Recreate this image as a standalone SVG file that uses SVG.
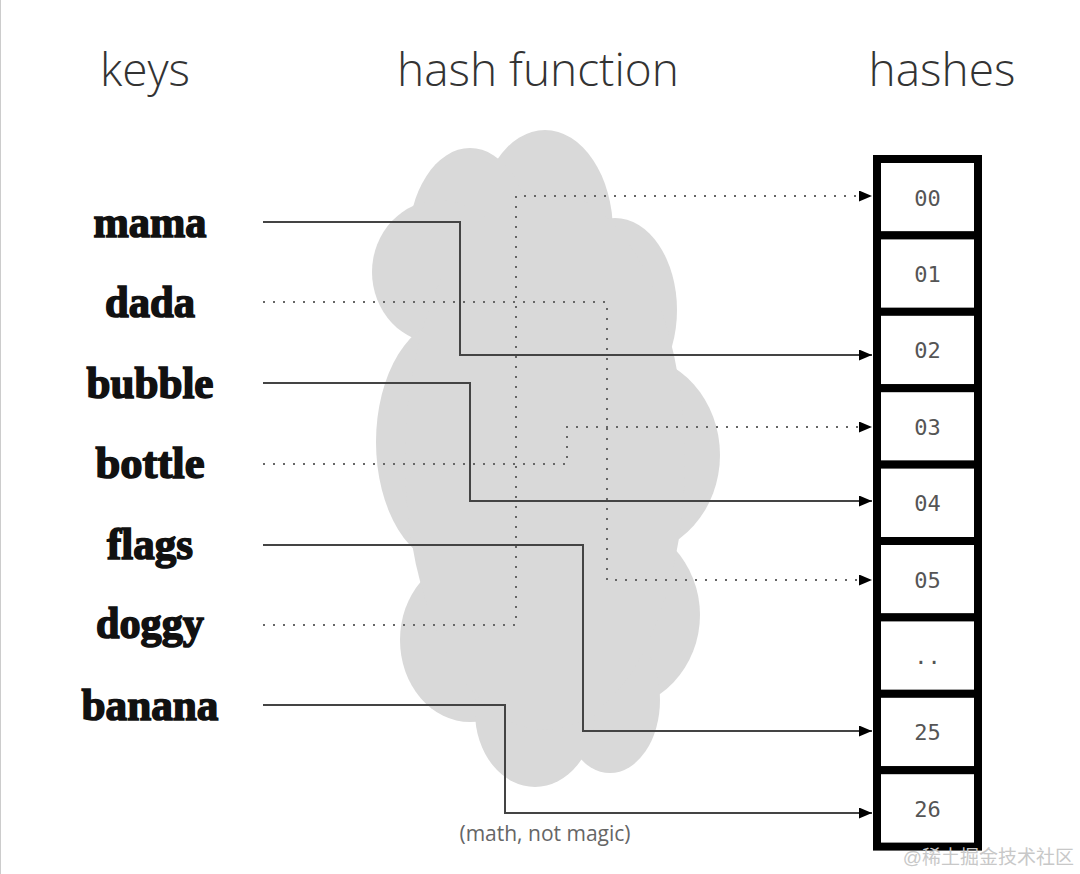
<svg xmlns="http://www.w3.org/2000/svg" width="1080" height="874" viewBox="0 0 1080 874">
<style>
.title{font-family:"Open Sans","Liberation Sans",sans-serif;font-weight:300;font-size:46px;fill:#333;text-anchor:middle}
.key{font-family:"Liberation Serif",serif;font-weight:bold;font-size:45px;fill:#111;stroke:#111;stroke-width:1.6;text-anchor:middle}
.cell rect{fill:#fff;stroke:#000;stroke-width:8}
.cell text{font-family:"DejaVu Sans Mono","Liberation Mono",monospace;font-size:22px;fill:#555;text-anchor:middle}
.solid{fill:none;stroke:#444;stroke-width:2}
.dot{fill:none;stroke:#666;stroke-width:2;stroke-dasharray:2 8}
.cloud{fill:#d9d9d9}
</style>
<defs>
<marker id="ah" markerUnits="userSpaceOnUse" markerWidth="13" markerHeight="11" refX="13" refY="5.5" orient="auto">
<path d="M0,0 L13,5.5 L0,11 z" fill="#000"/>
</marker>
</defs>
<rect width="1080" height="874" fill="#fff"/>
<line x1="0.5" y1="0" x2="0.5" y2="874" stroke="#ccc" stroke-width="1"/>
<g id="titles">
<text class="title" x="145" y="86">keys</text>
<text class="title" x="538" y="86">hash function</text>
<text class="title" x="942" y="86">hashes</text>
</g>
<g id="cloud" class="cloud">
<ellipse cx="545" cy="232" rx="68" ry="102"/>
<ellipse cx="470" cy="245" rx="62" ry="97"/>
<ellipse cx="440" cy="272" rx="68" ry="72"/>
<ellipse cx="452" cy="442" rx="76" ry="124"/>
<ellipse cx="470" cy="640" rx="70" ry="82"/>
<ellipse cx="615" cy="310" rx="62" ry="92"/>
<ellipse cx="630" cy="455" rx="90" ry="100"/>
<ellipse cx="610" cy="615" rx="90" ry="95"/>
<ellipse cx="610" cy="700" rx="50" ry="73"/>
<ellipse cx="535" cy="712" rx="60" ry="75"/>
<ellipse cx="545" cy="460" rx="140" ry="270"/>
</g>
<g id="keys">
<g id="key-mama"><text class="key" x="150" y="237" textLength="113" lengthAdjust="spacingAndGlyphs">mama</text></g>
<g id="key-dada"><text class="key" x="150" y="317" textLength="90" lengthAdjust="spacingAndGlyphs">dada</text></g>
<g id="key-bubble"><text class="key" x="150" y="398" textLength="127" lengthAdjust="spacingAndGlyphs">bubble</text></g>
<g id="key-bottle"><text class="key" x="150" y="478" textLength="109" lengthAdjust="spacingAndGlyphs">bottle</text></g>
<g id="key-flags"><text class="key" x="150" y="559" textLength="86" lengthAdjust="spacingAndGlyphs">flags</text></g>
<g id="key-doggy"><text class="key" x="150" y="638" textLength="108" lengthAdjust="spacingAndGlyphs">doggy</text></g>
<g id="key-banana"><text class="key" x="150" y="720" textLength="137" lengthAdjust="spacingAndGlyphs">banana</text></g>
</g>
<g id="connectors">
<polyline class="solid" points="263,222 460,222 460,355 872,355" marker-end="url(#ah)"/>
<polyline class="dot" points="263,302 607,302 607,580 872,580" marker-end="url(#ah)"/>
<polyline class="solid" points="263,383 470,383 470,501 872,501" marker-end="url(#ah)"/>
<polyline class="dot" points="263,464 567,464 567,427 872,427" marker-end="url(#ah)"/>
<polyline class="solid" points="263,545 583,545 583,731 872,731" marker-end="url(#ah)"/>
<polyline class="dot" points="263,625 516,625 516,196 872,196" marker-end="url(#ah)"/>
<polyline class="solid" points="263,705 505,705 505,813 872,813" marker-end="url(#ah)"/>
</g>
<g id="hashes">
<g id="cell-00" class="cell"><rect x="877" y="159" width="101" height="76.4"/><text x="927.5" y="205.5">00</text></g>
<g id="cell-01" class="cell"><rect x="877" y="235.4" width="101" height="76.4"/><text x="927.5" y="281.9">01</text></g>
<g id="cell-02" class="cell"><rect x="877" y="311.8" width="101" height="76.4"/><text x="927.5" y="358.3">02</text></g>
<g id="cell-03" class="cell"><rect x="877" y="388.2" width="101" height="76.4"/><text x="927.5" y="434.7">03</text></g>
<g id="cell-04" class="cell"><rect x="877" y="464.6" width="101" height="76.4"/><text x="927.5" y="511.1">04</text></g>
<g id="cell-05" class="cell"><rect x="877" y="541" width="101" height="76.4"/><text x="927.5" y="587.5">05</text></g>
<g id="cell-dots" class="cell"><rect x="877" y="617.4" width="101" height="76.4"/><text x="927.5" y="663.9">..</text></g>
<g id="cell-25" class="cell"><rect x="877" y="693.8" width="101" height="76.4"/><text x="927.5" y="740.3">25</text></g>
<g id="cell-26" class="cell"><rect x="877" y="770.2" width="101" height="76.4"/><text x="927.5" y="816.7">26</text></g>
</g>
<g id="caption">
<text x="545" y="841" font-family="'Open Sans','Liberation Sans',sans-serif" font-size="21" fill="#666" text-anchor="middle">(math, not magic)</text>
</g>
<g id="watermark">
<text x="1074" y="864" font-family="'Liberation Sans','Noto Sans CJK SC',sans-serif" font-size="19" fill="#c8c8c8" text-anchor="end">@稀土掘金技术社区</text>
</g>
</svg>
